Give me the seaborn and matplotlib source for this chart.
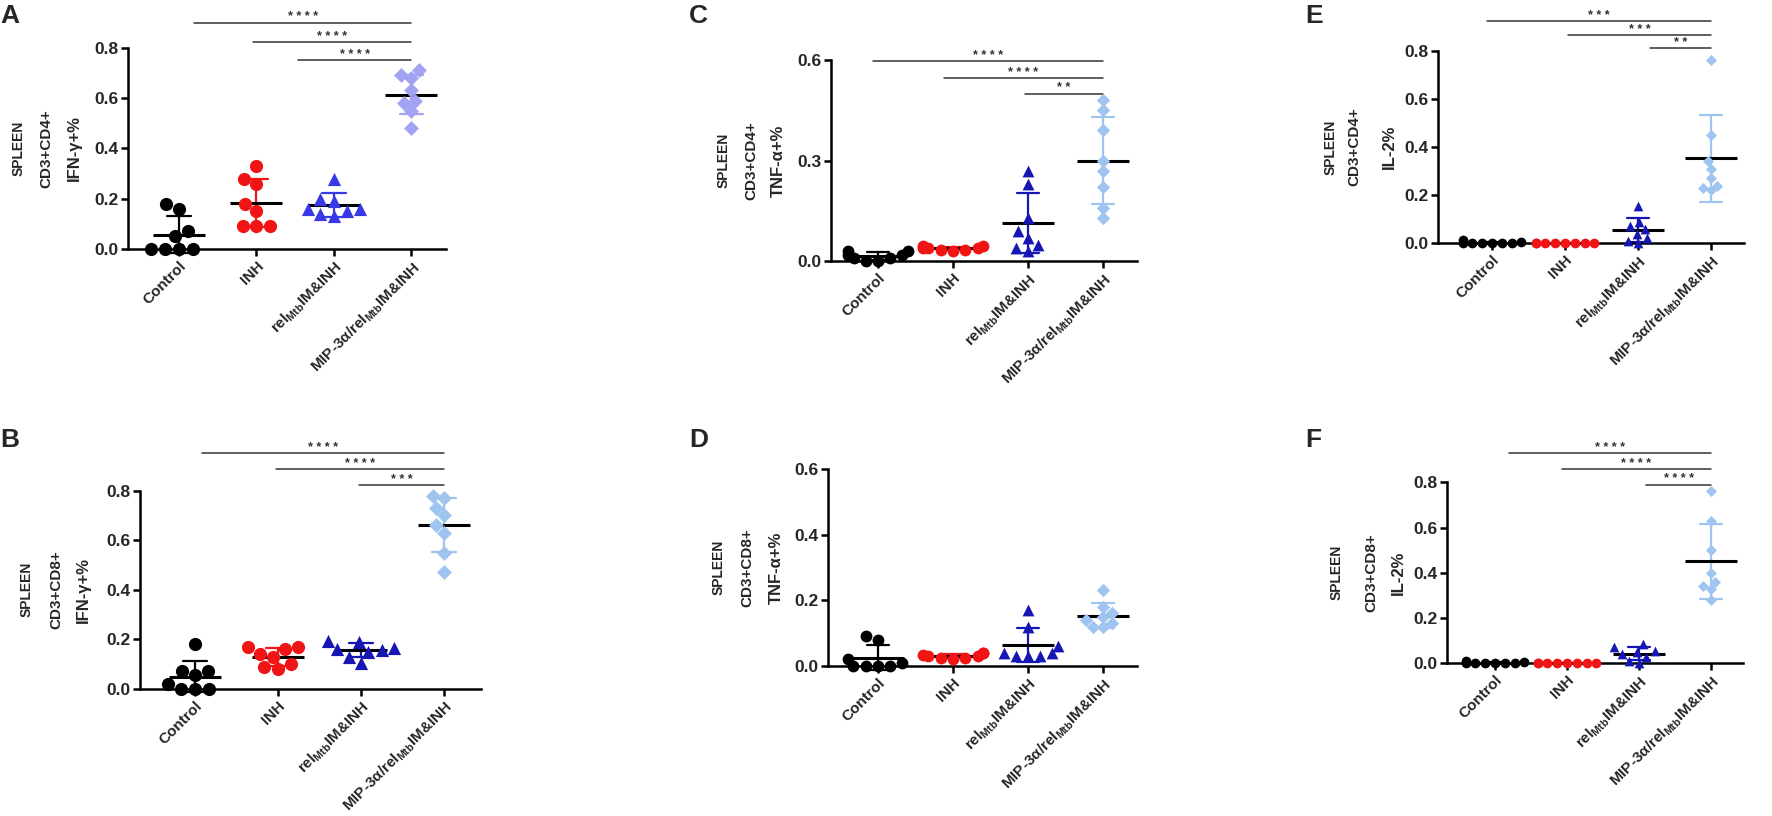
import numpy as np
import pandas as pd
import matplotlib
matplotlib.use("Agg")
from matplotlib import pyplot as plt
import seaborn as sns

# Groups and tick labels (same for all six panels)
groups = ["Control", "INH", "relMtb", "MIP"]
tick_labels = ["Control", "INH",
               r"rel$_{\mathregular{Mtb}}$IM&INH",
               r"MIP-3α/rel$_{\mathregular{Mtb}}$IM&INH"]
markers = ["o", "o", "^", "D"]

# Values, order: Control, INH, rel, MIP
ifng_cd4 = [
    [0.18, 0.16, 0.07, 0.05, 0.0, 0.0, 0.0, 0.0],
    [0.33, 0.28, 0.26, 0.18, 0.15, 0.09, 0.09, 0.09],
    [0.28, 0.20, 0.19, 0.16, 0.16, 0.15, 0.14, 0.13],
    [0.71, 0.69, 0.68, 0.63, 0.59, 0.58, 0.55, 0.48],
]
ifng_cd8 = [
    [0.18, 0.07, 0.07, 0.055, 0.02, 0.0, 0.0, 0.0],
    [0.17, 0.17, 0.16, 0.14, 0.13, 0.08, 0.10, 0.09],
    [0.19, 0.195, 0.165, 0.15, 0.155, 0.105, 0.13, 0.16],
    [0.78, 0.77, 0.73, 0.70, 0.66, 0.63, 0.55, 0.47],
]
tnf_cd4 = [
    [0.03, 0.03, 0.02, 0.02, 0.01, 0.01, 0.0, 0.0],
    [0.045, 0.045, 0.04, 0.04, 0.035, 0.035, 0.03, 0.04],
    [0.27, 0.23, 0.13, 0.09, 0.07, 0.05, 0.04, 0.03],
    [0.48, 0.45, 0.39, 0.30, 0.27, 0.22, 0.16, 0.13],
]
tnf_cd8 = [
    [0.09, 0.08, 0.02, 0.01, 0.0, 0.0, 0.0, 0.0],
    [0.04, 0.04, 0.035, 0.03, 0.03, 0.025, 0.02, 0.025],
    [0.17, 0.12, 0.06, 0.04, 0.04, 0.03, 0.03, 0.03],
    [0.23, 0.18, 0.16, 0.15, 0.14, 0.13, 0.12, 0.12],
]
il2_cd4 = [
    [0.012, 0.005, 0.0, 0.0, 0.0, 0.0, 0.0, 0.0],
    [0.0, 0.0, 0.0, 0.0, 0.0, 0.0, 0.0, 0.0],
    [0.155, 0.09, 0.07, 0.06, 0.04, 0.02, 0.01, 0.0],
    [0.76, 0.45, 0.34, 0.31, 0.27, 0.24, 0.23, 0.22],
]
il2_cd8 = [
    [0.012, 0.004, 0.0, 0.0, 0.0, 0.0, 0.0, 0.0],
    [0.0, 0.0, 0.0, 0.0, 0.0, 0.0, 0.0, 0.0],
    [0.085, 0.07, 0.055, 0.05, 0.04, 0.03, 0.01, 0.0],
    [0.76, 0.63, 0.50, 0.40, 0.36, 0.34, 0.33, 0.28],
]

# Significance brackets: (left group position, height, stars), all end at MIP
sig_a = [(0.2, 0.90, "****"), (0.95, 0.824, "****"), (1.54, 0.75, "****")]
sig_b = [(0.08, 0.952, "****"), (0.98, 0.887, "****"), (1.98, 0.823, "***")]
sig_c = [(-0.07, 0.597, "****"), (0.88, 0.546, "****"), (1.96, 0.50, "**")]
sig_d = []
sig_e = [(-0.07, 0.924, "***"), (1.04, 0.865, "***"), (2.16, 0.81, "**")]
sig_f = [(0.2, 0.93, "****"), (0.93, 0.86, "****"), (2.1, 0.79, "****")]

# Colours
col_a = ["#000000", "#f01414", "#3838e6", "#a3a3f3"]
col_rest = ["#000000", "#f01414", "#1616b4", "#9fc4f0"]

sns.set_theme(style="ticks")
plt.rcParams["font.family"] = ["Liberation Sans", "DejaVu Sans"]
plt.rcParams["font.weight"] = "bold"

W, H = 1772, 816
fig = plt.figure(figsize=(W / 100, H / 100), dpi=100)

# layout of each panel in pixels: y-axis x, y of 0, y of top tick, first group x, spacing
panels = [
    dict(letter="A", vals=ifng_cd4, cols=col_a, sig=sig_a, ymax=0.8, yt=[0, 0.2, 0.4, 0.6, 0.8],
         lab=["SPLEEN", "CD3+CD4+", "IFN-γ+%"], labx=[19, 46, 74], lx=0, ly=4,
         left=128, y0=249, ytop=47.7, first=179, step=77.5, size=9.5),
    dict(letter="B", vals=ifng_cd8, cols=col_rest, sig=sig_b, ymax=0.8, yt=[0, 0.2, 0.4, 0.6, 0.8],
         lab=["SPLEEN", "CD3+CD8+", "IFN-γ+%"], labx=[27, 56, 83], lx=0, ly=428,
         left=140, y0=688.8, ytop=490.7, first=195, step=83, size=9.5),
    dict(letter="C", vals=tnf_cd4, cols=col_rest, sig=sig_c, ymax=0.6, yt=[0, 0.3, 0.6],
         lab=["SPLEEN", "CD3+CD4+", "TNF-α+%"], labx=[724, 751, 778], lx=689, ly=4,
         left=831, y0=261.3, ytop=60, first=878, step=75, size=8.5),
    dict(letter="D", vals=tnf_cd8, cols=col_rest, sig=sig_d, ymax=0.6, yt=[0, 0.2, 0.4, 0.6],
         lab=["SPLEEN", "CD3+CD8+", "TNF-α+%"], labx=[719, 747, 776], lx=689, ly=428,
         left=828, y0=666, ytop=469, first=878, step=75, size=8.5),
    dict(letter="E", vals=il2_cd4, cols=col_rest, sig=sig_e, ymax=0.8, yt=[0, 0.2, 0.4, 0.6, 0.8],
         lab=["SPLEEN", "CD3+CD4+", "IL-2%"], labx=[1331, 1354, 1389], lx=1305, ly=4,
         left=1438, y0=243.3, ytop=50.7, first=1492, step=73, size=7),
    dict(letter="F", vals=il2_cd8, cols=col_rest, sig=sig_f, ymax=0.8, yt=[0, 0.2, 0.4, 0.6, 0.8],
         lab=["SPLEEN", "CD3+CD8+", "IL-2%"], labx=[1337, 1371, 1398], lx=1305, ly=428,
         left=1447, y0=663.3, ytop=482.3, first=1495, step=72, size=7),
]

for p in panels:
    x_lo = -(p["first"] - p["left"]) / p["step"]
    x_hi = 3.45
    right = p["first"] + x_hi * p["step"]
    ax = fig.add_axes([p["left"] / W, 1 - p["y0"] / H,
                       (right - p["left"]) / W, (p["y0"] - p["ytop"]) / H])

    df = pd.DataFrame({"group": np.repeat(groups, 8),
                       "value": np.concatenate(p["vals"])})

    for i, g in enumerate(groups):
        sub = df[df["group"] == g]
        sz = p["size"] * (0.8 if markers[i] == "D" else 1.0)
        sns.swarmplot(data=sub, x="group", y="value", order=groups, color=p["cols"][i],
                      marker=markers[i], size=sz, linewidth=0, warn_thresh=1, ax=ax)

    # SD error bars, coloured per group
    sns.pointplot(data=df, x="group", y="value", hue="group", order=groups, hue_order=groups,
                  palette=p["cols"], errorbar="sd", capsize=0.3, linestyle="none",
                  markersize=0, err_kws={"linewidth": 1.6}, legend=False, ax=ax)
    # mean line in black
    sns.pointplot(data=df, x="group", y="value", order=groups, color="black", errorbar=None,
                  marker="_", markersize=38, markeredgewidth=2.2, linestyle="none", ax=ax)

    for c in ax.collections:
        c.set_clip_on(False)
    for ln in ax.lines:
        ln.set_clip_on(False)

    ax.set_xlim(x_lo, x_hi)
    ax.set_ylim(0, p["ymax"])
    ax.set_yticks(p["yt"])
    ax.set_yticklabels([f"{t:.1f}" for t in p["yt"]], fontsize=12.5, fontweight="bold")
    ax.set_xticks(range(4))
    ax.set_xticklabels(tick_labels, rotation=45, ha="right", rotation_mode="anchor",
                       fontsize=11, fontweight="bold")
    ax.set_xlabel("")
    ax.set_ylabel("")
    ax.set_facecolor("none")
    for s in ["top", "right"]:
        ax.spines[s].set_visible(False)
    for s in ["left", "bottom"]:
        ax.spines[s].set_linewidth(1.8)
        ax.spines[s].set_color("black")
    ax.tick_params(axis="both", width=1.8, length=5, color="black", pad=2)

    for x0, yv, stars in p["sig"]:
        ax.plot([x0, 3.0], [yv, yv], color="#333333", lw=1.1, clip_on=False)
        ax.annotate(" ".join(stars), xy=((x0 + 3.0) / 2, yv), xytext=(0, 1.5),
                    textcoords="offset points", ha="center", va="baseline",
                    fontsize=9, color="#333333", annotation_clip=False)

    yc = (p["y0"] + p["ytop"]) / 2
    for txt, xx, fs in zip(p["lab"], p["labx"], [10, 11, 12]):
        fig.text(xx / W, 1 - yc / H, txt, rotation=90, ha="center", va="center",
                 fontsize=fs, fontweight="bold")
    fig.text(p["lx"] / W, 1 - p["ly"] / H, p["letter"], ha="left", va="top",
             fontsize=19, fontweight="bold")

fig.savefig("out.png", dpi=100)
